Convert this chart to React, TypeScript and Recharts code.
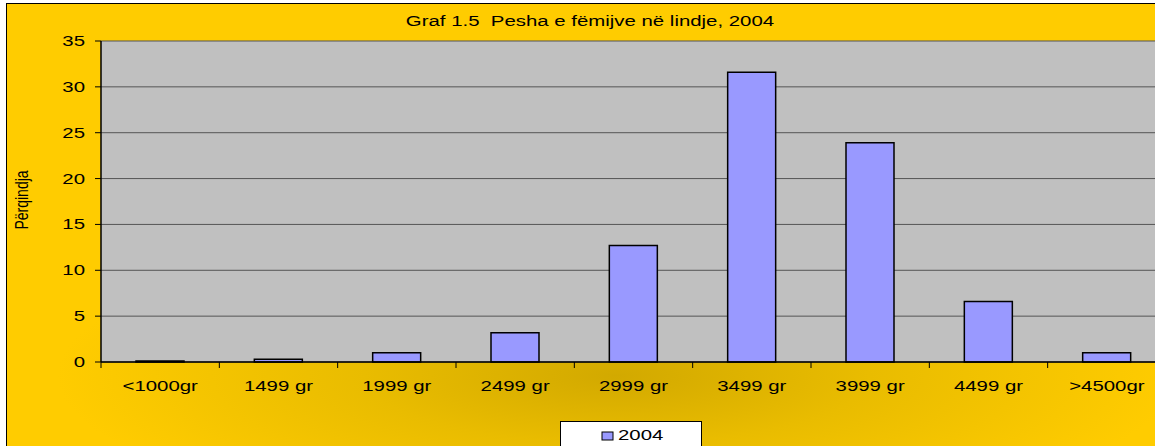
import React from "react";
import {
  BarChart,
  Bar,
  XAxis,
  YAxis,
  CartesianGrid,
  Legend,
  Customized,
} from "recharts";

// Pesha e femijve ne lindje (%), 2004
const categories = [
  "<1000gr",
  "1499 gr",
  "1999 gr",
  "2499 gr",
  "2999 gr",
  "3499 gr",
  "3999 gr",
  "4499 gr",
  ">4500gr",
];
const values2004 = [0.1, 0.3, 1.0, 3.2, 12.7, 31.6, 23.9, 6.6, 1.0];
const yTicks = [0, 5, 10, 15, 20, 25, 30, 35];
const seriesName = "2004";
const title = "Graf 1.5  Pesha e fëmijve në lindje, 2004";
const yLabel = "Përqindja";

const data = categories.map((c, i) => ({ name: c, value: values2004[i] }));

const FONT = "'Liberation Sans', Arial, sans-serif";
const SX = 1.36; // the original picture is stretched horizontally
const CHART_W = 1155;
const CHART_H = 446;
// plot runs past the right edge of the picture, like the original
const margin = { top: 41, right: -11, bottom: 44, left: 41 };
const Y_AXIS_W = 60;
const PLOT_W = CHART_W - margin.left - margin.right - Y_AXIS_W;
const STEP = PLOT_W / categories.length;

const XTick = (props: any) => {
  const { x, y, payload } = props;
  const bx = x - STEP / 2;
  return (
    <g>
      <line x1={bx} x2={bx} y1={y} y2={y + 6} stroke="#000" strokeWidth={1} />
      <text
        transform={`translate(${x},${y + 29}) scale(${SX},1)`}
        textAnchor="middle"
        fontFamily={FONT}
        fontSize={15}
        fill="#000"
      >
        {payload.value}
      </text>
    </g>
  );
};

const YTick = (props: any) => {
  const { x, y, payload } = props;
  return (
    <text
      transform={`translate(${x},${y + 5}) scale(${SX},1)`}
      textAnchor="end"
      fontFamily={FONT}
      fontSize={15}
      fill="#000"
    >
      {payload.value}
    </text>
  );
};

const YLabel = () => (
  <text
    transform={`translate(28,200) scale(${SX},1) rotate(-90)`}
    textAnchor="middle"
    fontFamily={FONT}
    fontSize={14}
    fill="#000"
  >
    {yLabel}
  </text>
);

const Title = () => (
  <text
    transform={`translate(590,26) scale(${SX},1)`}
    textAnchor="middle"
    fontFamily={FONT}
    fontSize={15}
    fill="#000"
    style={{ whiteSpace: "pre" }}
  >
    {title}
  </text>
);

const LegendBox = () => (
  <svg width={142} height={28} style={{ display: "block" }}>
    <rect x={41} y={10} width={11} height={8} fill="#9999FF" stroke="#000" strokeWidth={1} />
    <text
      transform={`translate(57,18) scale(${SX},1)`}
      fontFamily={FONT}
      fontSize={15}
      fill="#000"
    >
      {seriesName}
    </text>
  </svg>
);

export default function App() {
  return (
    <div
      style={{
        position: "absolute",
        left: 0,
        top: 0,
        width: CHART_W,
        height: CHART_H,
        overflow: "hidden",
        background: "#fff",
      }}
    >
      <style>{"html,body{margin:0;padding:0;overflow:hidden}"}</style>
      <div
        style={{
          position: "absolute",
          left: 6,
          top: 3,
          width: CHART_W,
          height: CHART_H,
          borderLeft: "1.5px solid #000",
          borderTop: "1.5px solid #000",
          background:
            "radial-gradient(ellipse 560px 150px at 610px 372px, #D2A900 0%, #E9BC00 45%, #FFCC00 100%)",
        }}
      />
      <div style={{ position: "absolute", left: 0, top: 0, width: CHART_W, height: CHART_H }}>
        <BarChart width={CHART_W} height={CHART_H} data={data} margin={margin} barSize={48}>
          <CartesianGrid vertical={false} fill="#C0C0C0" stroke="#555" />
          <XAxis
            dataKey="name"
            interval={0}
            tickSize={0}
            tickMargin={0}
            tick={<XTick />}
            axisLine={{ stroke: "#000", strokeWidth: 1.5 }}
            tickLine={false}
            height={40}
          />
          <YAxis
            width={Y_AXIS_W}
            domain={[0, 35]}
            ticks={yTicks}
            interval={0}
            tickSize={6}
            tickMargin={10}
            tick={<YTick />}
            axisLine={{ stroke: "#000", strokeWidth: 1.5 }}
            tickLine={{ stroke: "#000" }}
          />
          <Bar
            dataKey="value"
            name={seriesName}
            fill="#9999FF"
            stroke="#000"
            strokeWidth={1.5}
            isAnimationActive={false}
          />
          <Legend
            layout="horizontal"
            verticalAlign="middle"
            align="center"
            content={<LegendBox />}
            wrapperStyle={{
              position: "absolute",
              left: 560,
              top: 421,
              width: 142,
              height: 30,
              background: "#fff",
              border: "1px solid #000",
              boxSizing: "border-box",
            }}
          />
          <Customized component={<Title />} />
          <Customized component={<YLabel />} />
        </BarChart>
      </div>
    </div>
  );
}
